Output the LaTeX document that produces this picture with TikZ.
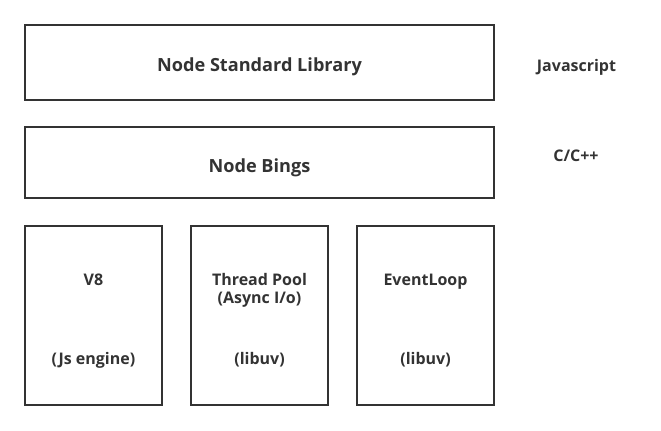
\documentclass[tikz,border=0pt]{standalone}
\usepackage{fontspec}
\setmainfont{Open Sans}
\usepackage{tikz}
\definecolor{ink}{HTML}{333333}
\tikzset{
    layer/.style={
        draw=ink, line width=1.5pt, inner sep=0pt,
        minimum width=351.75pt, minimum height=#1
    },
    layer/.default=56.25pt,
    part/.style={
        draw=ink, line width=1.5pt, inner sep=0pt,
        minimum width=102.75pt, minimum height=134.25pt
    },
    title/.style={
        anchor=base, inner sep=0pt, text=ink,
        font=\fontsize{13.6}{16}\selectfont\bfseries
    },
    tag/.style={
        anchor=base, inner sep=0pt, align=center, text=ink,
        font=\fontsize{12}{13.5}\selectfont\bfseries
    }
}

\begin{document}
\begin{tikzpicture}[x=0.75pt, y=-0.75pt]
    \useasboundingbox (0,0) rectangle (661,430);

    % Upper layers
    \node[layer] (stdlib) at (259.5,62.5) {};
    \node[layer=53.25pt] (bings) at (259.5,162.5) {};
    \node[title] (stdlibname) at (259.5,71.7) {Node Standard Library};
    \node[title] (bingsname) at (259.5,172.3) {Node Bings};

    % Language side
    \node[tag] (js) at (576.5,71.7) {Javascript};
    \node[tag] (cpp) at (576,161.7) {C/C++};

    % Lower parts
    \node[part] (veight) at (93.5,315.5) {};
    \node[part] (pool) at (259.5,315.5) {};
    \node[part] (loop) at (425.5,315.5) {};

    \node[tag] (veightname) at (93.5,285) {V8};
    \node[tag] (veightsub) at (93.5,364) {(Js engine)};
    % two lines: base sits on the last one
    \node[tag] (poolname) at (259.5,303) {Thread Pool\\(Async I/o)};
    \node[tag] (poolsub) at (259.5,364) {(libuv)};
    \node[tag] (loopname) at (425.5,285) {EventLoop};
    \node[tag] (loopsub) at (425.5,364) {(libuv)};
\end{tikzpicture}
\end{document}
